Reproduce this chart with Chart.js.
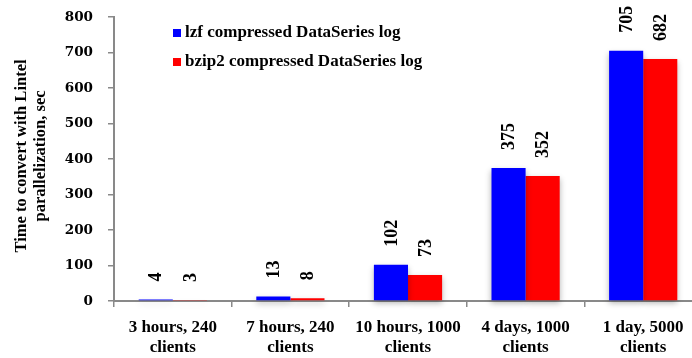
<!DOCTYPE html>
<html>
<head>
<meta charset="utf-8">
<script src="https://cdn.jsdelivr.net/npm/chart.js@4/dist/chart.umd.min.js"></script>
<style>
  html, body { margin: 0; padding: 0; background: #fff; overflow: hidden; }
  #wrap { width: 702px; height: 358px; position: relative; }
</style>
</head>
<body>
<div id="wrap"><canvas id="chart"></canvas></div>
<script>
// chart data
const categories = [
    ['3 hours, 240', 'clients'],
    ['7 hours, 240', 'clients'],
    ['10 hours, 1000', 'clients'],
    ['4 days, 1000', 'clients'],
    ['1 day, 5000', 'clients']
];
const lzfTimes = [4, 13, 102, 375, 705];
const bzip2Times = [3, 8, 73, 352, 682];
const seriesNames = ['lzf compressed DataSeries log', 'bzip2 compressed DataSeries log'];
const yTicks = [0, 100, 200, 300, 400, 500, 600, 700, 800];
const yTitle = ['Time to convert with Lintel', 'parallelization, sec'];

const FONT = '"Liberation Serif", "Times New Roman", serif';
const TICKFONT = '"DejaVu Serif", serif';
const axisGray = '#898989';

// soft drop shadow under the bars, like the original
const barShadow = {
    id: 'barShadow',
    beforeDatasetDraw(chart) {
        const ctx = chart.ctx;
        ctx.save();
        ctx.shadowColor = 'rgba(0,0,0,0.3)';
        ctx.shadowBlur = 6;
        ctx.shadowOffsetY = 3;
    },
    afterDatasetDraw(chart) {
        chart.ctx.restore();
    }
};

// rotated value labels above each bar
const valueLabels = {
    id: 'valueLabels',
    afterDatasetsDraw(chart) {
        const ctx = chart.ctx;
        ctx.save();
        ctx.font = 'bold 18px ' + FONT;
        ctx.fillStyle = '#000';
        ctx.textAlign = 'left';
        ctx.textBaseline = 'middle';
        chart.data.datasets.forEach((ds, i) => {
            chart.getDatasetMeta(i).data.forEach((bar, j) => {
                ctx.save();
                ctx.translate(bar.x + 1, bar.y - 18);
                ctx.rotate(-Math.PI / 2);
                ctx.fillText(String(ds.data[j]), 0, 0);
                ctx.restore();
            });
        });
        ctx.restore();
    }
};

// legend inside the plot (top left) and the two-line y title
const extras = {
    id: 'extras',
    afterDraw(chart) {
        const ctx = chart.ctx;
        ctx.save();
        ctx.font = 'bold 17px ' + FONT;
        ctx.textBaseline = 'middle';
        ctx.textAlign = 'left';
        chart.data.datasets.forEach((ds, i) => {
            const y = 33 + i * 29;
            ctx.fillStyle = ds.backgroundColor;
            ctx.fillRect(173, y - 4, 8, 8);
            ctx.fillStyle = '#000';
            ctx.fillText(ds.label, 185, y);
        });

        ctx.font = 'bold 16.5px ' + FONT;
        ctx.textAlign = 'center';
        yTitle.forEach((line, i) => {
            ctx.save();
            ctx.translate(22 + i * 19, 156);
            ctx.rotate(-Math.PI / 2);
            ctx.fillText(line, 0, 0);
            ctx.restore();
        });
        ctx.restore();
    }
};

new Chart(document.getElementById('chart'), {
    type: 'bar',
    data: {
        labels: categories,
        datasets: [{
            label: seriesNames[0],
            data: lzfTimes,
            backgroundColor: '#0000FF',
            categoryPercentage: 0.58,
            barPercentage: 1,
            clip: false
        }, {
            label: seriesNames[1],
            data: bzip2Times,
            backgroundColor: '#FF0000',
            categoryPercentage: 0.58,
            barPercentage: 1,
            clip: false
        }]
    },
    options: {
        responsive: true,
        maintainAspectRatio: false,
        animation: false,
        layout: { padding: { top: 17, right: 0, bottom: 0, left: 0 } },
        plugins: {
            legend: { display: false },
            tooltip: { enabled: false }
        },
        scales: {
            x: {
                afterFit(scale) {
                    scale.height = 57;
                    scale.paddingLeft = 0;
                    scale.paddingRight = 0;
                },
                grid: {
                    offset: true,
                    drawOnChartArea: false,
                    drawTicks: true,
                    tickLength: 6,
                    color: axisGray,
                    lineWidth: 1.5
                },
                border: { color: axisGray, width: 2 },
                ticks: {
                    color: '#000',
                    padding: 10,
                    maxRotation: 0,
                    autoSkip: false,
                    font: { family: FONT, size: 17, weight: 'bold', lineHeight: 1.2 }
                }
            },
            y: {
                min: 0,
                max: 800,
                afterFit(scale) {
                    scale.width = 114;
                    scale.paddingTop = 0;
                    scale.paddingBottom = 0;
                },
                afterBuildTicks(scale) { scale.ticks = yTicks.map(v => ({ value: v })); },
                grid: {
                    drawOnChartArea: false,
                    drawTicks: true,
                    tickLength: 6,
                    color: axisGray,
                    lineWidth: 1.5
                },
                border: { color: axisGray, width: 2 },
                ticks: {
                    color: '#000',
                    padding: 15,
                    font: { family: TICKFONT, size: 13.5, weight: 'bold' }
                }
            }
        }
    },
    plugins: [barShadow, valueLabels, extras]
});
</script>
</body>
</html>
